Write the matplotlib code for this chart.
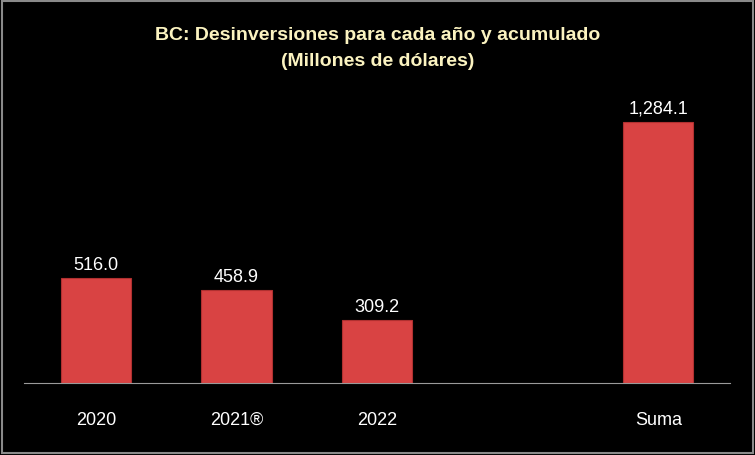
import matplotlib.pyplot as plt

categories = ["2020", "2021®", "2022", "Suma"]
positions = [0, 1, 2, 4]
values = [516.0, 458.9, 309.2, 1284.1]
labels = ["516.0", "458.9", "309.2", "1,284.1"]

fig = plt.figure(figsize=(7.55, 4.56), dpi=100, facecolor="black")
fig.patches.append(plt.Rectangle((0.002, 0.004), 0.996, 0.992, transform=fig.transFigure,
                                 fill=False, edgecolor="#8a8a8a", linewidth=1.5))
ax = fig.add_axes([24 / 755, 1 - 384 / 456, 706 / 755, 304 / 456])
ax.set_facecolor("black")

ax.bar(positions, values, width=0.5, color="#d94343", edgecolor="#b03030", linewidth=0.8)
for x, v, t in zip(positions, values, labels):
    ax.text(x, v + 25, t, ha="center", va="bottom", color="white", fontsize=13,
            family="Liberation Sans")

ax.set_xlim(-0.512, 4.51)
ax.set_ylim(0, 1496)
ax.set_xticks(positions)
ax.set_xticklabels(categories, color="white", fontsize=13, family="Liberation Sans")
ax.tick_params(axis="x", length=0, pad=20)
ax.set_yticks([])
for s in ["top", "right", "left"]:
    ax.spines[s].set_visible(False)
ax.spines["bottom"].set_color("#9a9a9a")

fig.text(0.5, 1 - 35 / 456, "BC: Desinversiones para cada año y acumulado", ha="center", va="center",
         color="#fbf3c0", fontsize=14, fontweight="bold", family="Liberation Sans")
fig.text(0.5, 1 - 62 / 456, "(Millones de dólares)", ha="center", va="center",
         color="#fbf3c0", fontsize=14, fontweight="bold", family="Liberation Sans")

fig.savefig("out.png", dpi=100, facecolor="black")
